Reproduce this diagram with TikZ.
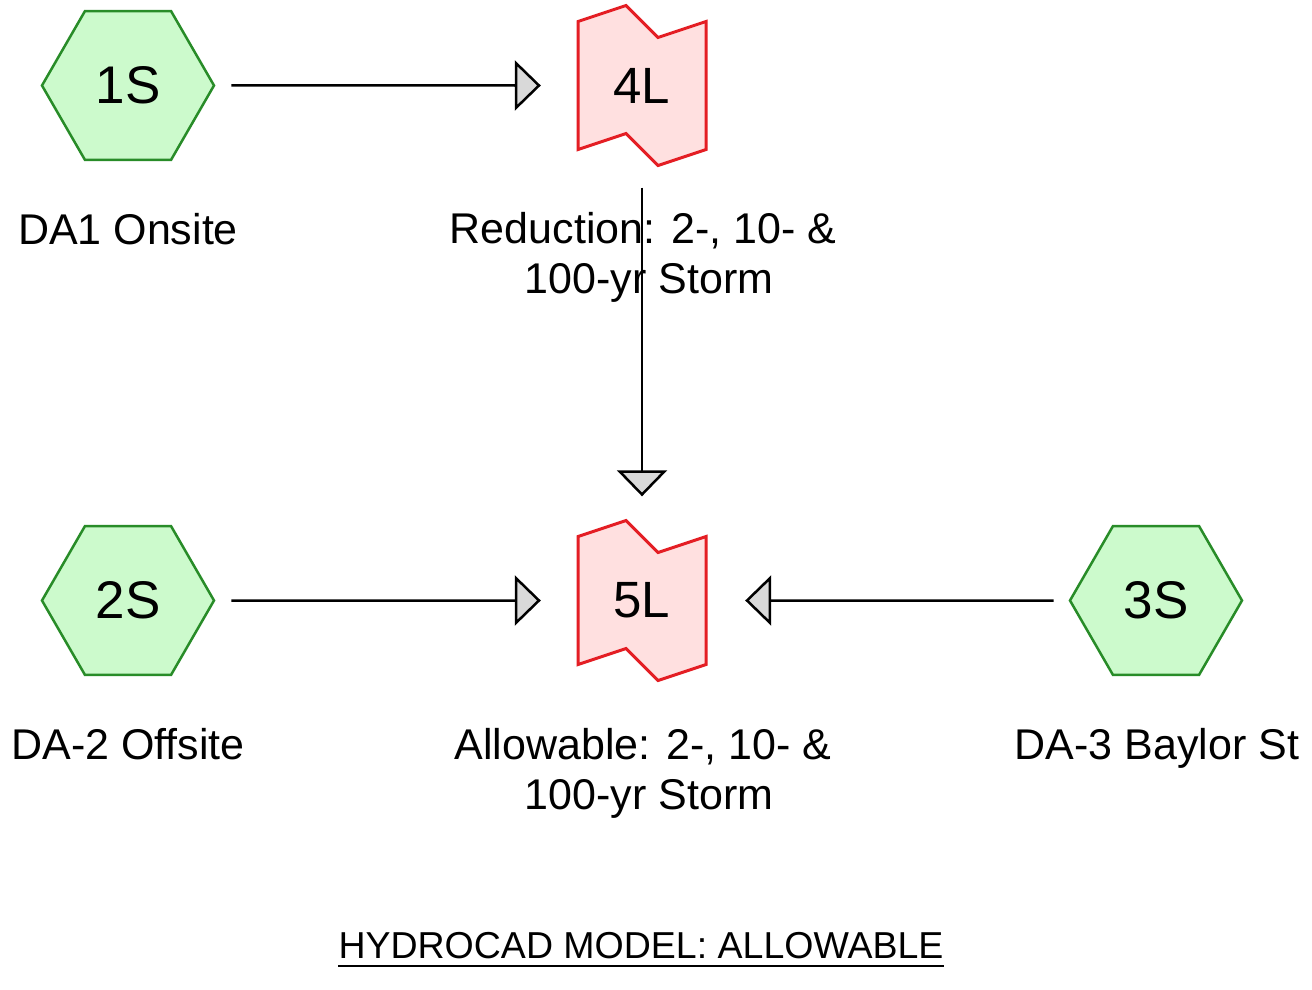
\documentclass[tikz,border=0pt]{standalone}
\usepackage{fontspec}
\setmainfont{Liberation Sans}
\usetikzlibrary{shapes.geometric,arrows.meta,backgrounds}
\definecolor{hexfill}{RGB}{204,250,204}
\definecolor{hexline}{RGB}{40,140,40}
\definecolor{pondfill}{RGB}{255,224,224}
\definecolor{pondline}{RGB}{228,30,36}
\definecolor{tipfill}{RGB}{217,217,217}
\tikzset{
  hexnode/.style={regular polygon, regular polygon sides=6, minimum size=172pt,
    inner sep=0pt, draw=hexline, fill=hexfill, line width=2.5pt,
    font=\fontsize{53}{60}\selectfont},
  pondnode/.style={rectangle, minimum width=128pt, minimum height=160pt,
    inner sep=0pt, font=\fontsize{51}{58}\selectfont},
  pondborder/.style={draw=pondline, fill=pondfill, line width=3pt, line join=miter},
  flow/.style={line width=2.5pt, draw=black,
    -{Triangle[length=26pt,width=50pt,fill=tipfill,line join=miter]}},
  lbl/.style={anchor=base, inner sep=0pt, font=\fontsize{43}{50}\selectfont, align=center},
  ttl/.style={anchor=base, inner sep=0pt, font=\fontsize{37.5}{44}\selectfont}
}
\newcommand\pondshape[1]{%
  \begin{scope}[on background layer, shift={(#1.center)}]
    \draw[pondborder] (-64,-64) -- (-16,-80) -- (16,-48) -- (64,-64) -- (64,64)
      -- (16,80) -- (-16,48) -- (-64,64) -- cycle;
  \end{scope}}
\begin{document}
\begin{tikzpicture}[x=1pt,y=-1pt]
  \begin{scope}[on background layer]
    \fill[white] (0,0) rectangle (1312,990);
  \end{scope}
  \useasboundingbox (0,0) rectangle (1312,990);

  % nodes
  \node[hexnode] (1S) at (128,85.5) {1S};
  \node[hexnode] (2S) at (128,600.5) {2S};
  \node[hexnode] (3S) at (1156,600.5) {3S};
  \node[pondnode] (4L) at (642,85.5) {4L};
  \node[pondnode] (5L) at (642,600.5) {5L};
  \pondshape{4L}
  \pondshape{5L}

  % labels
  \node[lbl] (l1) at (128,244) {DA1 Onsite};
  \node[lbl] (l4) at (649,293) {Reduction: 2-, 10- \&\hspace*{12pt}\\100-yr Storm};
  \node[lbl] (l2) at (128,759) {DA-2 Offsite};
  \node[lbl] (l5) at (649,809) {Allowable: 2-, 10- \&\hspace*{12pt}\\100-yr Storm};
  \node[lbl] (l3) at (1157,759) {DA-3 Baylor St};

  \node[ttl] (title) at (641,958) {HYDROCAD MODEL: ALLOWABLE};
  \draw[line width=2pt] ([yshift=-8pt]title.base west) -- ([yshift=-8pt]title.base east);

  % connectors
  \draw[flow, shorten <=16pt, shorten >=37pt] (1S.east) -- (4L.west);
  \draw[flow, shorten <=22pt, shorten >=24pt] (4L.south) -- (5L.north);
  \draw[flow, shorten <=16pt, shorten >=37pt] (2S.east) -- (5L.west);
  \draw[flow, shorten <=15pt, shorten >=39pt] (3S.west) -- (5L.east);
\end{tikzpicture}
\end{document}
